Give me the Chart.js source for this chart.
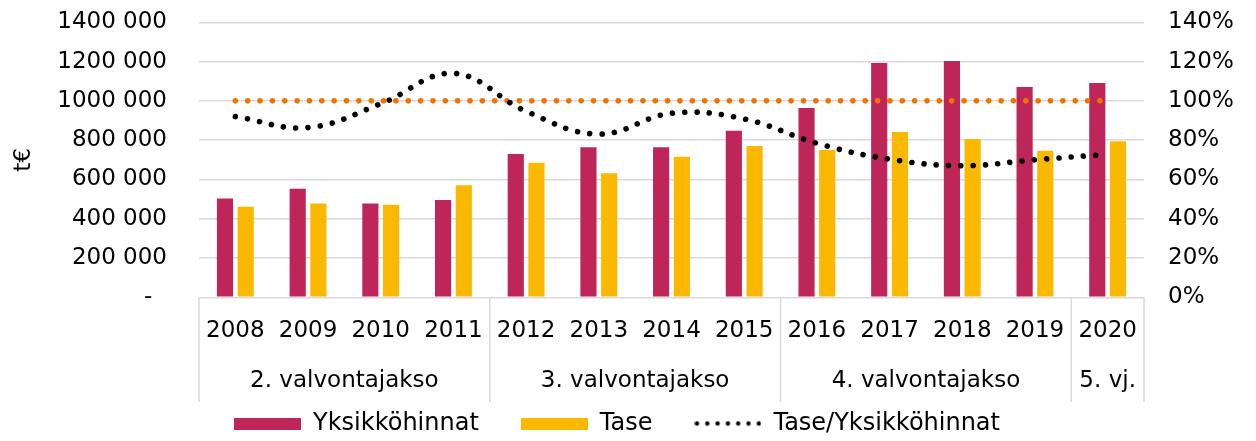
<!DOCTYPE html>
<html><head><meta charset="utf-8">
<script src="https://cdn.jsdelivr.net/npm/chart.js@4/dist/chart.umd.min.js"></script>
<style>html,body{margin:0;padding:0;background:#fff}#wrap{width:1256px;height:441px;position:relative}</style>
</head><body><div id="wrap"><canvas id="c" width="1256" height="441"></canvas></div>
<script>
const years = ['2008','2009','2010','2011','2012','2013','2014','2015','2016','2017','2018','2019','2020'];
const groupLabels = ['2. valvontajakso','3. valvontajakso','4. valvontajakso','5. vj.'];
const groupSizes = [4,4,4,1];
const yksikkohinnat = [503000,553000,478000,495000,730000,764000,764000,848000,964000,1193000,1203000,1071000,1091000];
const tase = [461000,478000,471000,570000,685000,631000,716000,770000,750000,842000,806000,746000,794000];
const suhde = [0.92,0.864,0.985,1.14,0.947,0.831,0.937,0.908,0.784,0.703,0.67,0.70,0.728];
const tavoite = [1,1,1,1,1,1,1,1,1,1,1,1,1];
const leftTickLabels = ['-  ','200 000','400 000','600 000','800 000','1000 000','1200 000','1400 000'];
const rightTickLabels = ['0%','20%','40%','60%','80%','100%','120%','140%'];
const seriesNames = ['Yksikköhinnat','Tase','Tase/Yksikköhinnat'];

const C_RED = '#BE2558', C_GOLD = '#FBB800', C_ORANGE = '#F07300', C_GRID = '#d9d9d9';
const FONT = {family:'"DejaVu Sans", Verdana, sans-serif', size:23};
const PLOT_BOTTOM = 297.3;

function boxImg(color){
  const c = document.createElement('canvas'); c.width = 67; c.height = 12;
  const x = c.getContext('2d'); x.fillStyle = color; x.fillRect(0,0,67,12); return c;
}
function dotsImg(){
  const c = document.createElement('canvas'); c.width = 67; c.height = 8;
  const x = c.getContext('2d'); x.fillStyle = '#000';
  for(let i=0;i<7;i++){ x.beginPath(); x.arc(2.5+i*10.3,4,2.2,0,Math.PI*2); x.fill(); }
  return c;
}
const legendImgs = [boxImg(C_RED), boxImg(C_GOLD), dotsImg()];

const groupPlugin = {
  id:'groups',
  afterLayout(chart){
    const lg = chart.legend;
    if(lg){
      const dy = 423.5 - (lg.top + lg.options.labels.padding + 12);
      lg.top += dy; lg.bottom += dy;
      lg.left -= 1; lg.right -= 1;
    }
  },
  afterDraw(chart){
    const ctx = chart.ctx, xs = chart.scales.x, ca = chart.chartArea;
    ctx.save();
    ctx.strokeStyle = C_GRID; ctx.lineWidth = 1.5;
    ctx.fillStyle = '#000'; ctx.font = FONT.size + 'px ' + FONT.family;
    ctx.textAlign = 'center'; ctx.textBaseline = 'middle';
    let idx = 0;
    const n = years.length;
    groupSizes.forEach((size, g) => {
      const first = idx, last = idx + size - 1;
      const xl = first === 0 ? ca.left : (xs.getPixelForValue(first-1) + xs.getPixelForValue(first)) / 2;
      const xr = last === n-1 ? ca.right : (xs.getPixelForValue(last) + xs.getPixelForValue(last+1)) / 2;
      ctx.beginPath(); ctx.moveTo(xl, ca.bottom); ctx.lineTo(xl, 402); ctx.stroke();
      if(last === n-1){ ctx.beginPath(); ctx.moveTo(xr, ca.bottom); ctx.lineTo(xr, 402); ctx.stroke(); }
      ctx.fillText(groupLabels[g], (xl + xr) / 2, 381);
      idx += size;
    });
    ctx.restore();
  }
};

new Chart(document.getElementById('c'), {
  data: {
    labels: years,
    datasets: [
      {type:'bar', label:seriesNames[0], data:yksikkohinnat, backgroundColor:C_RED, yAxisID:'y', order:2, categoryPercentage:0.57, barPercentage:0.78},
      {type:'bar', label:seriesNames[1], data:tase, backgroundColor:C_GOLD, yAxisID:'y', order:2, categoryPercentage:0.57, barPercentage:0.78},
      {type:'line', label:seriesNames[2], data:suhde, yAxisID:'y1', order:0, borderColor:'#000', borderWidth:5.6, borderCapStyle:'round', borderDash:[0.001,12.3], pointRadius:0, tension:0.4, fill:false},
      {type:'line', label:'100%', data:tavoite, yAxisID:'y1', order:1, borderColor:C_ORANGE, borderWidth:5.6, borderCapStyle:'round', borderDash:[0.001,12.35], pointRadius:0, tension:0, fill:false}
    ]
  },
  options: {
    responsive:false, animation:false, devicePixelRatio:1,
    layout:{padding:{top:22.3, right:20, left:0, bottom:0}},
    plugins:{
      tooltip:{enabled:false},
      legend:{
        position:'bottom',
        labels:{
          font:{family:FONT.family, size:24}, color:'#000', usePointStyle:true, pointStyleWidth:67, padding:42,
          generateLabels(){
            return [0,1,2].map(i => ({text:seriesNames[i], pointStyle:legendImgs[i], fillStyle:'transparent', strokeStyle:'transparent', lineWidth:0, datasetIndex:i, hidden:false, fontColor:'#000'}));
          }
        }
      }
    },
    scales:{
      x:{
        type:'category', offset:true,
        grid:{display:false, drawTicks:false}, border:{display:false},
        ticks:{font:FONT, color:'#000', padding:20, maxRotation:0, autoSkip:false},
        afterFit(s){ const lg = s.chart.legend; s.height = s.chart.height - PLOT_BOTTOM - (lg ? lg.height : 0); }
      },
      y:{
        position:'left', min:0, max:1400000,
        ticks:{stepSize:200000, font:FONT, color:'#000', padding:32, callback:v => leftTickLabels[Math.round(v/200000)]},
        grid:{color:C_GRID, lineWidth:1.5, drawTicks:false}, border:{display:false},
        title:{display:true, text:'t€', font:FONT, color:'#000', padding:{top:10, bottom:0}},
        afterFit(s){ s.width = 199; s.paddingTop = 0; s.paddingBottom = 0; }
      },
      y1:{
        position:'right', min:0, max:1.4,
        ticks:{stepSize:0.2, font:FONT, color:'#000', padding:24, callback:v => rightTickLabels[Math.round(v/0.2)]},
        grid:{display:false, drawTicks:false}, border:{display:false},
        afterFit(s){ s.width = 92; s.paddingTop = 0; s.paddingBottom = 0; }
      }
    }
  },
  plugins:[groupPlugin]
});
</script>
</body></html>
